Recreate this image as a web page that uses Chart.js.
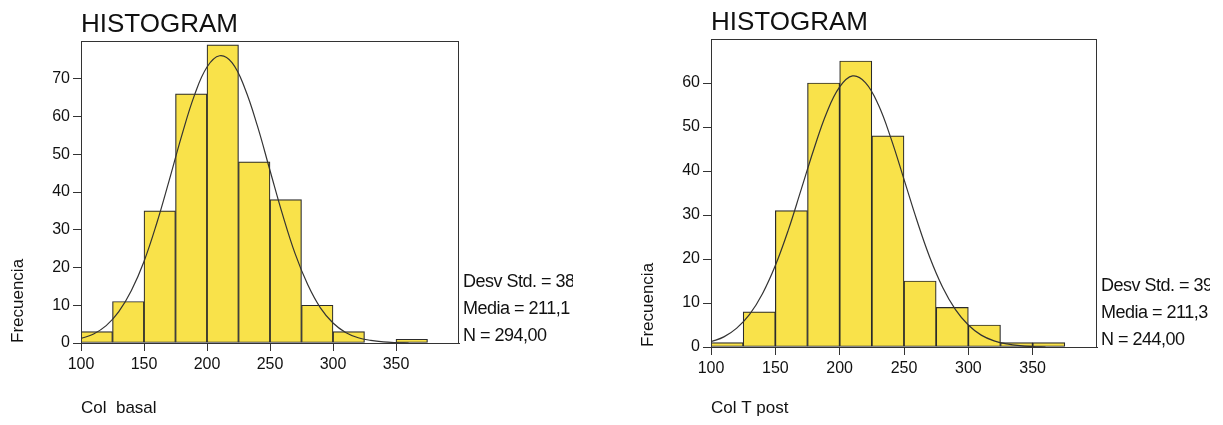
<!DOCTYPE html>
<html>
<head>
<meta charset="utf-8">
<script src="https://cdn.jsdelivr.net/npm/chart.js@4.4.1/dist/chart.umd.min.js"></script>
<style>
  body { margin: 0; background: #fff; width: 1223px; height: 425px; overflow: hidden; position: relative; }
  canvas { position: absolute; top: 0; }
  #basal { left: 0; }
  #post { left: 630px; }
</style>
</head>
<body>
<canvas id="basal" width="573" height="425"></canvas>
<canvas id="post" width="580" height="425"></canvas>
<script>
// bins of 25 mg/dl starting at these values
const binStarts = [100, 125, 150, 175, 200, 225, 250, 275, 300, 325, 350];
const binWidth = 25;

const basalCounts = [3, 11, 35, 66, 79, 48, 38, 10, 3, 0, 1];
const postCounts = [1, 8, 31, 60, 65, 48, 15, 9, 5, 1, 1];

// normal curve
const curveX = [100, 110, 120, 130, 140, 150, 160, 170, 180, 190, 200, 210, 220, 230, 240, 250, 260, 270, 280, 290, 300, 310, 320, 330, 340, 350, 360];
const basalCurve = [1.2, 2.4, 4.6, 8.3, 13.9, 21.6, 31.6, 43.1, 55.0, 65.6, 73.1, 76.1, 74.2, 67.5, 57.5, 45.7, 34.0, 23.6, 15.4, 9.3, 5.3, 2.8, 1.4, 0.7, 0.3, 0.1, 0.0];
const postCurve = [1.2, 2.3, 4.3, 7.4, 12.1, 18.5, 26.5, 35.7, 45.0, 53.3, 59.1, 61.6, 60.1, 55.1, 47.3, 38.1, 28.8, 20.4, 13.6, 8.5, 5.0, 2.7, 1.4, 0.7, 0.3, 0.1, 0.0];

const basalStats = ["Desv Std. = 38,50", "Media = 211,1", "N = 294,00"];
const postStats = ["Desv Std. = 39,50", "Media = 211,3", "N = 244,00"];

const FONT = '"Liberation Sans", Arial, Helvetica, sans-serif';

// caja, titulo y estadisticas
const histoText = {
    id: "histoText",
    afterDraw(chart, args, opts) {
        const ctx = chart.ctx;
        const a = chart.chartArea;
        ctx.save();
        ctx.strokeStyle = "#333";
        ctx.lineWidth = 1;
        ctx.strokeRect(a.left + 0.5, a.top + 0.5, a.right - a.left - 1, a.bottom - a.top);
        ctx.fillStyle = "#111";
        ctx.textAlign = "left";
        ctx.textBaseline = "alphabetic";
        ctx.font = "26px " + FONT;
        ctx.fillText(opts.title, a.left, a.top - 9);
        ctx.font = "18px " + FONT;
        ctx.letterSpacing = "-0.5px";
        ctx.textBaseline = "middle";
        const offs = [61, 34, 7];
        opts.stats.forEach((s, i) => ctx.fillText(s, a.right + 4, a.bottom - offs[i]));
        ctx.restore();
    }
};

function dropMax(scale) {
    scale.ticks = scale.ticks.filter((t) => t.value < scale.max);
}

function drawHistogram(id, counts, curve, yMax, xTitle, stats, top, bottomH, padRight) {
    const bars = binStarts.map((b, i) => ({ x: b + binWidth / 2, y: counts[i] }));
    const line = curveX.map((x, i) => ({ x: x, y: curve[i] }));

    return new Chart(document.getElementById(id), {
        type: "bar",
        data: {
            datasets: [
                {
                    type: "line",
                    data: line,
                    borderColor: "#333",
                    borderWidth: 1.2,
                    pointRadius: 0,
                    tension: 0.4,
                    order: 0
                },
                {
                    type: "bar",
                    data: bars,
                    backgroundColor: "#F9E24A",
                    borderColor: "#2b2b2b",
                    borderWidth: 1.2,
                    borderSkipped: false,
                    barPercentage: 1,
                    categoryPercentage: 1,
                    order: 1
                }
            ]
        },
        options: {
            responsive: false,
            animation: false,
            layout: { padding: { top: top, right: padRight, left: 0, bottom: 0 } },
            plugins: {
                legend: { display: false },
                tooltip: { enabled: false },
                histoText: { title: "HISTOGRAM", stats: stats }
            },
            scales: {
                x: {
                    type: "linear",
                    min: 100,
                    max: 400,
                    offset: false,
                    afterBuildTicks: dropMax,
                    afterFit: (s) => { s.height = bottomH; },
                    ticks: { stepSize: 50, color: "#111", font: { size: 16, family: FONT }, padding: 4, maxRotation: 0, autoSkip: false },
                    grid: { display: true, drawOnChartArea: false, drawTicks: true, tickLength: 8, color: "#333", offset: false },
                    border: { color: "#333", width: 1 },
                    title: { display: true, text: xTitle, align: "start", color: "#111", font: { size: 17, family: FONT }, padding: { top: 0, bottom: 6 } }
                },
                y: {
                    min: 0,
                    max: yMax,
                    afterBuildTicks: dropMax,
                    afterFit: (s) => { s.width = 81; },
                    ticks: { stepSize: 10, color: "#111", font: { size: 16, family: FONT }, padding: 3 },
                    grid: { display: true, drawOnChartArea: false, drawTicks: true, tickLength: 8, color: "#333" },
                    border: { color: "#333", width: 1 },
                    title: { display: true, text: "Frecuencia", align: "start", color: "#111", font: { size: 17, family: FONT }, padding: { top: 8, bottom: 0 } }
                }
            }
        },
        plugins: [histoText]
    });
}

drawHistogram("basal", basalCounts, basalCurve, 80, "Col  basal", basalStats, 41, 82, 114);
drawHistogram("post", postCounts, postCurve, 70, "Col T post", postStats, 39, 78, 113);
</script>
</body>
</html>
